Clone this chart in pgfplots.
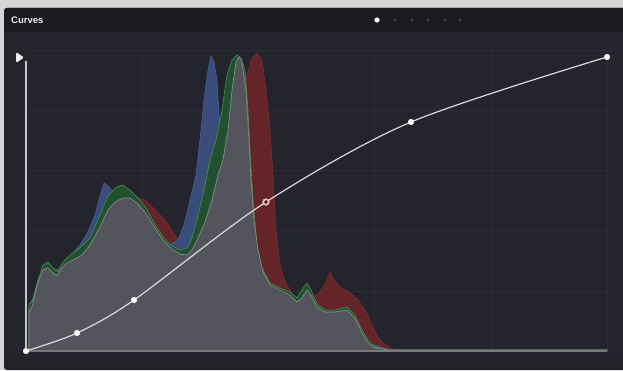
\documentclass[border=0pt]{standalone}
\usepackage{pgfplots}
\pgfplotsset{compat=1.18}
\usepackage{fontspec}
\setmainfont{Liberation Sans}
\definecolor{outer}{RGB}{214,214,216}
\definecolor{panel}{RGB}{34,34,41}
\definecolor{titlebar}{RGB}{27,27,33}
\definecolor{plotbg}{RGB}{36,36,44}
\definecolor{gridc}{RGB}{44,44,53}
\definecolor{redf}{RGB}{100,36,40}
\definecolor{redl}{RGB}{125,50,52}
\definecolor{bluef}{RGB}{58,76,124}
\definecolor{bluel}{RGB}{80,102,150}
\definecolor{greenf}{RGB}{32,82,48}
\definecolor{greenl}{RGB}{80,140,88}
\definecolor{grayf}{RGB}{84,84,93}
\definecolor{grayl}{RGB}{135,150,135}
\definecolor{curvec}{RGB}{218,218,220}
\definecolor{dotc}{RGB}{58,58,66}
\begin{document}
\begin{tikzpicture}[x=1pt,y=1pt]
\useasboundingbox (0,0) rectangle (623,370);
\fill[outer] (0,0) rectangle (623,370);
\fill[panel,rounded corners=3pt] (4,0) rectangle (640,362);
\fill[titlebar,rounded corners=3pt] (4,338) rectangle (640,362);
\fill[titlebar] (4,338) rectangle (623,345);
\fill[plotbg] (4,12) rectangle (623,338);
\node[anchor=west,text=white!85!gray,inner sep=0pt,font=\fontsize{9.5}{11}\selectfont\bfseries] at (11,350) {Curves};
\fill[white] (377,350) circle (2.6);
\foreach \xx in {395,412,428,445,460} \fill[dotc] (\xx,350) circle (1.8);
\fill[white!92!gray, rounded corners=1.5pt] (16,318) -- (24,312.5) -- (16,307) -- cycle;
\begin{axis}[
  at={(26,19)}, anchor=south west,
  width=581pt, height=301pt, scale only axis,
  xmin=0, xmax=581, ymin=0, ymax=301,
  xtick={116.2,232.4,348.6,464.8}, ytick={60.2,120.4,180.6,240.8},
  xticklabels={}, yticklabels={},
  major tick length=0pt, tick style={draw=none},
  grid=major, grid style={gridc, line width=0.6pt},
  axis line style={gridc, line width=0.6pt},
  clip=false,
]
% red channel
\addplot[fill=redf, draw=redl, line width=0.5pt] table {
3 0
3 39
14 51
24 61
36 81
54 91
74 119
89 146
99 153
109 154
119 151
129 141
139 131
149 116
157 104
162 99
169 101
179 111
189 131
199 151
209 191
216 241
221 276
226 293
231 297
236 291
240 261
244 221
247 176
250 121
254 86
259 69
267 56
274 51
281 51
289 55
294 59
300 69
304 79
308 71
314 64
324 58
332 51
339 41
346 26
352 14
358 7
366 2
374 1
581 1
581 0
} -- cycle;
% blue channel
\addplot[fill=bluef, draw=bluel, line width=0.5pt] table {
3 0
3 46
7 53
12 71
17 83
24 83
32 81
39 91
46 97
54 106
62 119
69 136
74 155
78 168
82 165
87 159
94 155
104 153
114 146
124 131
134 116
144 106
152 111
158 126
164 151
170 176
174 211
178 251
182 281
185 295
188 289
191 271
194 221
197 181
201 141
206 111
214 89
224 76
234 66
254 59
271 49
284 53
299 39
321 39
342 8
364 1
581 1
581 0
} -- cycle;
% green channel
\addplot[fill=greenf, draw=greenl, line width=0.6pt] table {
3 0
3 46
7 51
12 71
17 86
22 89
27 83
32 79
37 89
44 96
54 103
64 113
74 136
82 155
89 163
96 166
104 161
112 153
120 143
130 125
138 113
146 105
154 101
161 103
166 113
172 136
178 161
184 191
190 211
196 241
201 276
206 291
211 296
215 293
219 281
222 241
224 201
227 151
231 106
236 83
244 68
254 63
264 59
271 53
276 61
281 68
285 61
291 47
299 41
309 41
321 44
329 36
336 21
342 11
349 4
364 1
581 1
581 0
} -- cycle;
% overlap (all channels)
\addplot[fill=grayf, draw=grayl, line width=0.6pt] table {
3 0
3 39
6 44
11 66
17 81
22 83
26 79
31 75
36 83
41 88
49 92
56 96
64 106
74 124
82 141
89 149
97 153
104 153
111 148
119 139
129 123
137 111
146 102
154 97
161 96
166 101
172 113
179 129
186 151
192 176
197 191
202 221
206 261
210 289
213 294
216 289
220 261
223 211
225 171
228 131
232 101
237 79
244 66
254 61
264 56
271 49
276 53
281 61
285 56
291 44
299 39
309 39
321 41
329 33
336 18
342 8
349 3
364 1
581 1
581 0
} -- cycle;
% axes lines
\draw[white!55!gray, line width=1.1pt] (axis cs:0,0) -- (axis cs:0,290);
\draw[white!35!gray!70!black, line width=1.6pt] (axis cs:0,0) -- (axis cs:581,0);
% curve
\addplot[curvec, line width=1.2pt, smooth, tension=0.5] coordinates {
(0,0) (51,18) (108,51) (240,149) (385,229) (581,294)
};
\addplot[only marks, mark=*, mark size=2.8pt, mark options={fill=white, draw=white}] coordinates {
(0,0) (51,18) (108,51) (385,229) (581,294)
};
\addplot[only marks, mark=*, mark size=3.4pt, mark options={fill=white!75!red, draw=white!75!red}] coordinates {(240,149)};
\addplot[only marks, mark=*, mark size=1.6pt, mark options={fill=plotbg, draw=plotbg}] coordinates {(240,149)};
\end{axis}
\end{tikzpicture}
\end{document}
